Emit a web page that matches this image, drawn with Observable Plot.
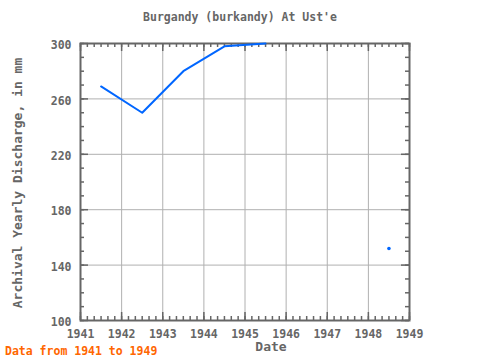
<!DOCTYPE html>
<html><head><meta charset="utf-8">
<script src="https://cdn.jsdelivr.net/npm/d3@7"></script>
<script src="https://cdn.jsdelivr.net/npm/@observablehq/plot@0.6"></script>
<style>
body{margin:0;background:#fff}
#wrap{position:relative;width:480px;height:360px;font-family:"DejaVu Sans Mono",monospace;overflow:hidden}
.t{position:absolute;color:#666;white-space:nowrap;line-height:1;font-weight:bold}
</style></head><body><div id="wrap"></div>
<script>
const years = [1941.5, 1942.5, 1943.5, 1944.5, 1945.5, 1946.5, 1947.5, 1948.5];
const discharge = [269, 250, 280, 298, 300, null, null, 152];
const xTicks = [1941, 1942, 1943, 1944, 1945, 1946, 1947, 1948, 1949];
const yTicks = [100, 140, 180, 220, 260, 300];
const titleText = "Burgandy (burkandy) At Ust'e";
const xLabel = "Date";
const yLabel = "Archival Yearly Discharge, in mm";
const captionText = "Data from 1941 to 1949";

const W = 480, H = 360, mt = 43, mr = 71, mb = 40, ml = 80;
const ph = H - mt - mb, pw = W - ml - mr;
const data = years.map((x, i) => ({x, y: discharge[i]}));
const isolated = data.filter((d, i) => d.y != null &&
  (i === 0 || data[i-1].y == null) && (i === data.length-1 || data[i+1].y == null));
const minorX = d3.range(1941, 1949.0001, 1/6);
const minorY = d3.range(100, 300.0001, 10);
const tc = "#666";

const chart = Plot.plot({
  width: W, height: H,
  marginTop: mt, marginRight: mr, marginBottom: mb, marginLeft: ml,
  x: {domain: [1941, 1949], axis: null},
  y: {domain: [100, 300], axis: null},
  style: {fontFamily: "DejaVu Sans Mono, monospace", background: "white"},
  marks: [
    Plot.gridX(xTicks, {stroke: "#b0b0b0", strokeOpacity: 1}),
    Plot.gridY(yTicks, {stroke: "#b0b0b0", strokeOpacity: 1}),
    Plot.tickX(minorX, {x: d => d, insetTop: ph - 4, stroke: tc, strokeWidth: 1.5}),
    Plot.tickX(minorX, {x: d => d, insetBottom: ph - 4, stroke: tc, strokeWidth: 1.5}),
    Plot.tickX(xTicks, {x: d => d, insetTop: ph - 8, stroke: tc, strokeWidth: 1.5}),
    Plot.tickX(xTicks, {x: d => d, insetBottom: ph - 8, stroke: tc, strokeWidth: 1.5}),
    Plot.tickY(minorY, {y: d => d, insetRight: pw - 4, stroke: tc, strokeWidth: 1.5}),
    Plot.tickY(minorY, {y: d => d, insetLeft: pw - 4, stroke: tc, strokeWidth: 1.5}),
    Plot.tickY(yTicks, {y: d => d, insetRight: pw - 8, stroke: tc, strokeWidth: 1.5}),
    Plot.tickY(yTicks, {y: d => d, insetLeft: pw - 8, stroke: tc, strokeWidth: 1.5}),
    Plot.frame({stroke: tc, strokeWidth: 2}),
    Plot.axisX(xTicks, {tickSize: 0, tickPadding: 9, tickFormat: d => String(d), fill: tc, fontSize: 11.5, fontWeight: "bold", label: null}),
    Plot.axisY(yTicks, {tickSize: 0, tickPadding: 9, dy: 2, tickFormat: d => String(d), fill: tc, fontSize: 11.5, fontWeight: "bold", label: null}),
    Plot.line(data, {x: "x", y: "y", stroke: "#0066ff", strokeWidth: 2}),
    Plot.dot(isolated, {x: "x", y: "y", r: 1.8, fill: "#0066ff", stroke: null})
  ]
});
const wrap = document.getElementById("wrap");
wrap.appendChild(chart);

function addText(txt, css) {
  const d = document.createElement("div");
  d.className = "t";
  d.textContent = txt;
  Object.assign(d.style, css);
  wrap.appendChild(d);
  return d;
}
addText(titleText, {left: "240px", top: "12px", fontSize: "11.5px", transform: "translateX(-50%)"});
addText(xLabel, {left: "271px", top: "340px", fontSize: "13px", transform: "translateX(-50%)"});
addText(yLabel, {left: "17px", top: "183px", fontSize: "13px", transform: "translate(-50%,-50%) rotate(-90deg)"});
addText(captionText, {left: "5px", top: "346px", fontSize: "11.5px", color: "#ff6600"});
</script></body></html>
